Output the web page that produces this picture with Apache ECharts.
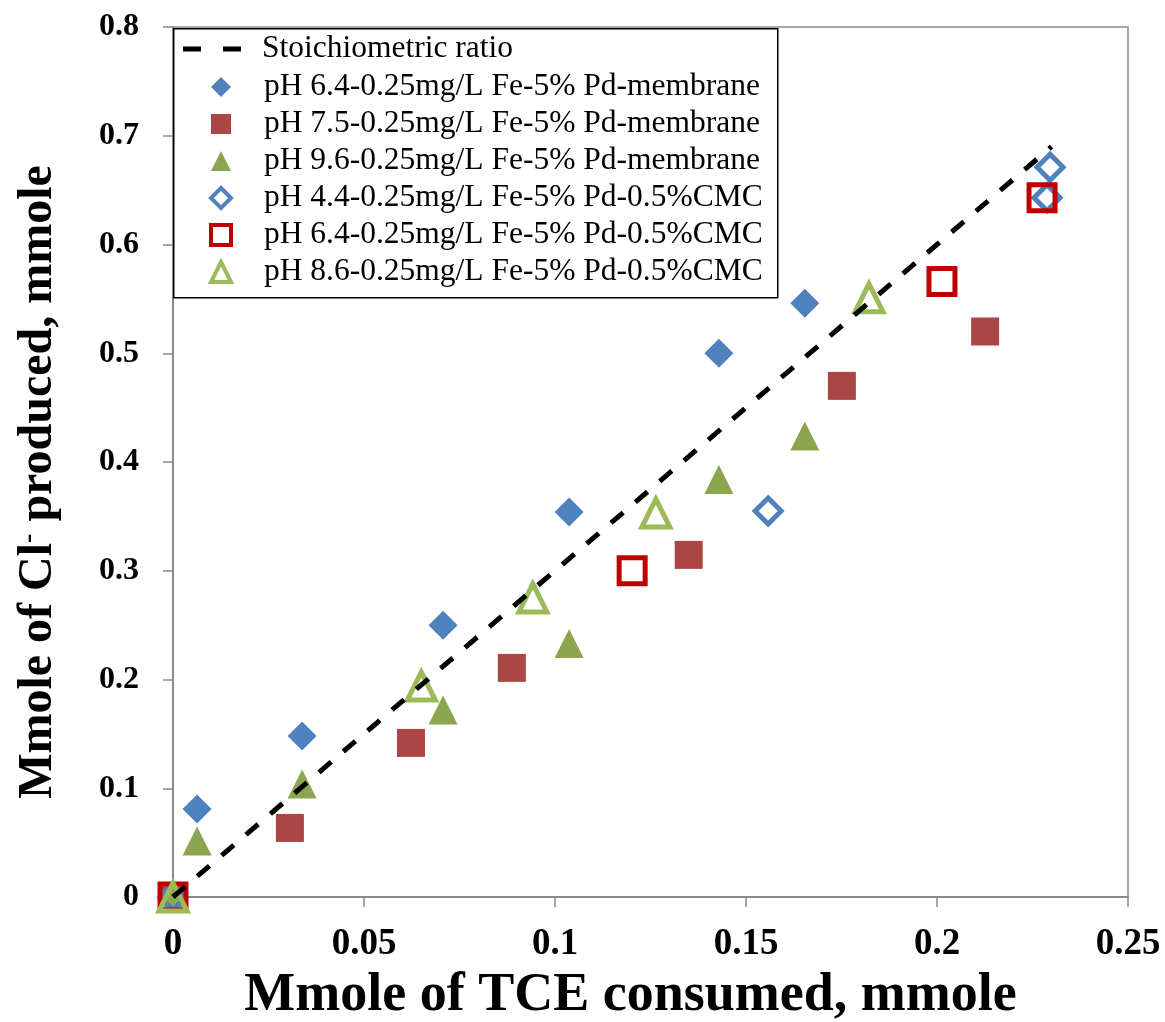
<!DOCTYPE html>
<html><head><meta charset="utf-8">
<script src="https://cdn.jsdelivr.net/npm/echarts@6/dist/echarts.min.js"></script>
<style>html,body{margin:0;padding:0;background:#fff}#c{width:1165px;height:1022px}</style>
</head><body><div id="c"></div>
<script>
const seriesNames = [
  'Stoichiometric ratio',
  'pH 6.4-0.25mg/L Fe-5% Pd-membrane',
  'pH 7.5-0.25mg/L Fe-5% Pd-membrane',
  'pH 9.6-0.25mg/L Fe-5% Pd-membrane',
  'pH 4.4-0.25mg/L Fe-5% Pd-0.5%CMC',
  'pH 6.4-0.25mg/L Fe-5% Pd-0.5%CMC',
  'pH 8.6-0.25mg/L Fe-5% Pd-0.5%CMC'
];
const lineX = [0, 0.23];
const lineY = [0, 0.69];
const memb64X = [0, 0.0063, 0.0338, 0.0707, 0.1037, 0.1429, 0.1654];
const memb64Y = [0, 0.081, 0.148, 0.250, 0.354, 0.500, 0.546];
const memb75X = [0, 0.0306, 0.0623, 0.0887, 0.135, 0.1751, 0.2126];
const memb75Y = [0, 0.0635, 0.1417, 0.2107, 0.3146, 0.470, 0.520];
const memb96X = [0, 0.0063, 0.0338, 0.0707, 0.1037, 0.1429, 0.1654];
const memb96Y = [0, 0.0515, 0.104, 0.172, 0.233, 0.384, 0.424];
const cmc44X = [0, 0.1558, 0.2288, 0.2296];
const cmc44Y = [0, 0.355, 0.643, 0.671];
const cmc64X = [0, 0.1202, 0.2013, 0.2275];
const cmc64Y = [0, 0.300, 0.566, 0.643];
const cmc86X = [0, 0.065, 0.0942, 0.1264, 0.1822];
const cmc86Y = [0, 0.194, 0.275, 0.353, 0.551];
const xTicks = [0, 0.05, 0.1, 0.15, 0.2, 0.25];
const yTicks = [0, 0.1, 0.2, 0.3, 0.4, 0.5, 0.6, 0.7, 0.8];

const zip = (xs, ys) => xs.map((x, i) => [x, ys[i]]);
const serif = '"Liberation Serif","Times New Roman",serif';

function scat(name, xs, ys, symbol, size, style) {
  return { type: 'scatter', name, data: zip(xs, ys), symbol, symbolSize: size,
    itemStyle: Object.assign({ opacity: 1 }, style), emphasis: { disabled: true }, z: 2 };
}
const tickFmt = ticks => v => { const t = ticks.find(k => Math.abs(k - v) < 1e-9); return t === undefined ? '' : String(t); };
const legendText = (pad) => ({
  fontFamily: serif, fontSize: 31.5, color: '#000', lineHeight: 20,
  rich: { t: { fontFamily: serif, fontSize: 31.5, color: '#000', lineHeight: 20, padding: [0, 0, 0, pad] } }
});

const chart = echarts.init(document.getElementById('c'), null, { renderer: 'canvas' });
chart.setOption({
  animation: false,
  backgroundColor: '#fff',
  grid: { left: 173, right: 37, top: 27, bottom: 125, show: true, borderColor: '#8a8a8a', borderWidth: 1.5,
    backgroundColor: 'transparent', containLabel: false, outerBoundsMode: 'none' },
  xAxis: {
    type: 'value', min: 0, max: 0.25, interval: 0.05,
    axisLine: { show: true, onZero: false, lineStyle: { color: '#8a8a8a', width: 2 } },
    axisTick: { show: true, inside: false, length: 10, lineStyle: { color: '#8a8a8a', width: 1.5 } },
    splitLine: { show: false },
    axisLabel: { fontFamily: serif, fontWeight: 'bold', fontSize: 37, color: '#000', margin: 29, formatter: tickFmt(xTicks) },
    name: 'Mmole of TCE consumed, mmole', nameLocation: 'middle', nameGap: 72,
    nameTextStyle: { fontFamily: serif, fontWeight: 'bold', fontSize: 54, color: '#000', padding: [0, 40, 0, 0] }
  },
  yAxis: {
    type: 'value', min: 0, max: 0.8, interval: 0.1,
    axisLine: { show: true, onZero: false, lineStyle: { color: '#8a8a8a', width: 2 } },
    axisTick: { show: true, inside: false, length: 10, lineStyle: { color: '#8a8a8a', width: 1.5 } },
    splitLine: { show: false },
    axisLabel: { fontFamily: serif, fontWeight: 'bold', fontSize: 32, color: '#000', margin: 34, formatter: tickFmt(yTicks) },
    name: 'Mmole of Cl{sup|-} produced, mmole', nameLocation: 'middle', nameGap: 110, nameRotate: 90,
    nameTextStyle: { fontFamily: serif, fontWeight: 'bold', fontSize: 48, color: '#000', padding: [0, 40, 0, 0],
      rich: { sup: { fontFamily: serif, fontWeight: 'bold', fontSize: 28, color: '#000', verticalAlign: 'top', padding: [0, 0, 15, 0] } } }
  },
  graphic: [{
    type: 'rect', left: 173, top: 28, z: 5,
    shape: { width: 604, height: 269 },
    style: { fill: '#fff', stroke: '#000', lineWidth: 1.5 }
  }],
  legend: [{
    data: [{ name: seriesNames[0], icon: 'path://M0,0H18V5H0Z M40,0H58V5H40Z' }],
    orient: 'vertical', left: 183, top: 33,
    itemWidth: 58, itemHeight: 5, padding: 0,
    formatter: '{t|{name}}', textStyle: legendText(16), z: 10
  }, {
    data: [
      { name: seriesNames[1] },
      { name: seriesNames[2] },
      { name: seriesNames[3] },
      { name: seriesNames[4], itemStyle: { borderWidth: 4 } },
      { name: seriesNames[5], itemStyle: { borderWidth: 4 } },
      { name: seriesNames[6], itemStyle: { borderWidth: 4 } }
    ],
    orient: 'vertical', left: 209, top: 71,
    itemWidth: 20, itemHeight: 20, itemGap: 5, padding: 0,
    formatter: '{t|{name}}', textStyle: legendText(28), z: 10
  }],
  series: [
    { type: 'line', name: seriesNames[0], data: zip(lineX, lineY), symbol: 'none', showSymbol: false,
      lineStyle: { color: '#000', width: 5, type: [16, 16], cap: 'butt' }, itemStyle: { color: '#000' }, z: 3 },
    scat(seriesNames[1], memb64X, memb64Y, 'diamond', 29, { color: '#4F81BD' }),
    scat(seriesNames[2], memb75X, memb75Y, 'rect', 28, { color: '#AA4643' }),
    scat(seriesNames[3], memb96X, memb96Y, 'triangle', 29, { color: '#8AA64F' }),
    scat(seriesNames[4], cmc44X, cmc44Y, 'diamond', 26, { color: 'rgba(255,255,255,0)', borderColor: '#4F81BD', borderWidth: 5 }),
    scat(seriesNames[5], cmc64X, cmc64Y, 'rect', 26, { color: 'rgba(255,255,255,0)', borderColor: '#C00000', borderWidth: 5 }),
    scat(seriesNames[6], cmc86X, cmc86Y, 'triangle', 28, { color: 'rgba(255,255,255,0)', borderColor: '#9BBB59', borderWidth: 5 })
  ]
});
</script></body></html>
